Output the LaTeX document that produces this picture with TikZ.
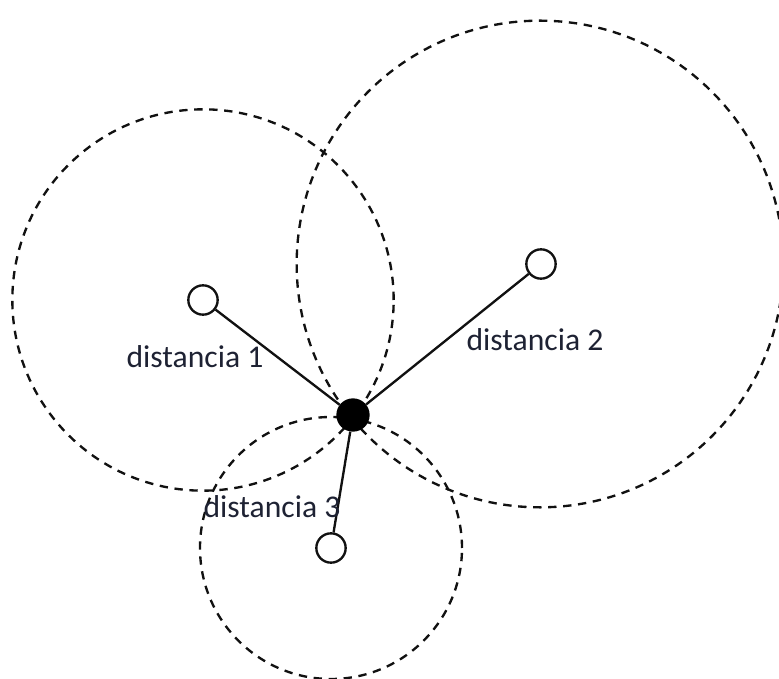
\documentclass[tikz,border=0pt]{standalone}
\usepackage{fontspec}
\setmainfont{Carlito}
\usepackage{xcolor}
\usepackage{tikz}
\definecolor{PosInk}{HTML}{1E2233}
\definecolor{PosLine}{HTML}{111111}
\tikzset{
  anchorpt/.style={circle,draw=PosLine,line width=2pt,fill=white,minimum size=0.88cm,inner sep=0pt},
  targetpt/.style={circle,fill=black,minimum size=1.0cm,inner sep=0pt},
  rangecircle/.style={PosLine,line width=2pt,dash pattern=on 0.25cm off 0.2cm},
  distlabel/.style={text=PosInk,font=\fontsize{27}{31}\selectfont,inner sep=0pt}
}

\begin{document}
\begin{tikzpicture}[x=1cm,y=1cm]
\path[use as bounding box] (0,0) rectangle (23.37,20.34);
% range circles
\draw[rangecircle] (6.09,11.34) circle (5.72);
\draw[rangecircle] (16.20,12.42) circle (7.30);
\draw[rangecircle] (9.93,3.90) circle (3.93);
% stations and target
\node[anchorpt] (sA) at (6.09,11.34) {};
\node[anchorpt] (sB) at (16.23,12.42) {};
\node[anchorpt] (sC) at (9.93,3.90) {};
\node[targetpt] (tgt) at (10.59,7.89) {};
\draw[PosLine,line width=2pt] (sA) -- (tgt);
\draw[PosLine,line width=2pt] (sB) -- (tgt);
\draw[PosLine,line width=2pt] (sC) -- (tgt);
\node[distlabel] (lA) at (5.85,9.63) {distancia 1};
\node[distlabel] (lB) at (16.05,10.14) {distancia 2};
\node[distlabel] (lC) at (8.16,5.13) {distancia 3};
\end{tikzpicture}
\end{document}
